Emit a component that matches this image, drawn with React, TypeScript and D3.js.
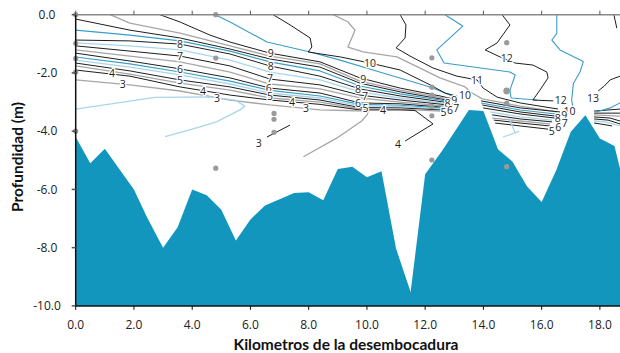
import React from "react";
import * as d3 from "d3";

const W = 620;
const H = 353;
const X0 = 75.7;
const X1 = 620;
const Y0 = 14.7;
const Y1 = 305.9;

// River-bed profile (km from the mouth, depth in m)
const profileKm = [0, 0.5, 1, 2, 2.44, 3, 3.5, 4, 4.5, 5, 5.5, 6, 6.5, 7.5, 8, 8.5, 9, 9.5, 10, 10.5, 11, 11.5, 12, 12.6, 13.5, 14, 14.5, 15, 15.5, 16, 16.5, 17, 17.5, 18, 18.5, 18.69];
const profileDepth = [-4.2, -5.1, -4.6, -6.0, -6.94, -8.0, -7.3, -6.0, -6.2, -6.7, -7.75, -7.03, -6.55, -6.12, -6.1, -6.37, -5.3, -5.22, -5.58, -5.38, -8.03, -9.52, -5.48, -4.65, -3.27, -3.31, -4.62, -5.05, -5.9, -6.43, -5.34, -4.02, -3.45, -4.25, -4.51, -5.28];

// Sampling stations
const stationKm = [0, 0, 0, 0, 0, 4.81, 4.81, 4.81, 6.81, 6.81, 6.81, 12.23, 12.23, 12.23, 12.23, 12.23, 12.23, 14.8, 14.8, 14.8, 14.8];
const stationDepth = [0, -0.98, -1.5, -1.97, -4.0, 0, -1.49, -5.27, -3.39, -3.59, -4.04, -1.48, -2.49, -2.76, -3.16, -3.47, -4.99, -0.96, -2.62, -3.04, -5.22];

type Pt = [number, number];

// Isolines, [km, depth]
const iso9: Pt[] = [[2.89, 0], [3.58, -0.25], [4.61, -0.7], [5.3, -0.94], [6.67, -1.32], [8.39, -1.62], [9.76, -2.17], [11.14, -2.52], [12.51, -2.79], [12.9, -2.88]];
const iso9b: Pt[] = [[1.18, 0], [1.86, -0.29], [3.58, -0.63], [5.3, -1.07], [6.67, -1.42], [8.39, -1.69], [9.76, -2.28], [11.14, -2.59], [12.51, -2.84], [12.75, -2.88]];
const iso8h: Pt[] = [[0, -0.15], [1.86, -0.53], [3.58, -0.8], [5.3, -1.18], [6.67, -1.52], [8.39, -1.8], [9.76, -2.35], [11.14, -2.65], [12.51, -2.89], [12.75, -2.93]];
const iso8b: Pt[] = [[0, -0.53], [1.86, -0.7], [3.58, -0.9], [5.3, -1.25], [6.67, -1.62], [8.39, -1.93], [9.76, -2.45], [11.14, -2.72], [12.51, -2.93], [12.7, -2.96]];
const iso8: Pt[] = [[0, -0.87], [1.86, -0.9], [3.58, -1.01], [5.3, -1.35], [6.67, -1.76], [8.39, -2.11], [9.76, -2.55], [11.14, -2.79], [12.51, -2.98], [12.7, -3.01]];
const iso7b: Pt[] = [[0, -0.97], [1.86, -1.07], [3.58, -1.21], [5.3, -1.56], [6.67, -1.97], [8.39, -2.24], [9.76, -2.65], [11.14, -2.86], [12.51, -3.03], [12.7, -3.05]];
const iso7: Pt[] = [[0, -1.07], [1.86, -1.25], [3.58, -1.42], [5.3, -1.76], [6.67, -2.21], [8.39, -2.41], [9.76, -2.76], [11.14, -2.93], [12.51, -3.07], [12.85, -3.12]];
const iso6b: Pt[] = [[0, -1.21], [1.86, -1.42], [3.58, -1.62], [5.3, -1.97], [6.67, -2.38], [8.39, -2.55], [9.76, -2.86], [11.14, -3.0], [12.51, -3.12], [12.7, -3.15]];
const iso6: Pt[] = [[0, -1.32], [1.86, -1.59], [3.58, -1.86], [5.3, -2.17], [6.67, -2.52], [8.39, -2.69], [9.76, -3.03], [11.14, -3.06], [12.51, -3.17], [12.75, -3.2]];
const iso5c: Pt[] = [[0, -1.45], [1.86, -1.69], [3.58, -1.97], [5.3, -2.28], [6.67, -2.6], [8.39, -2.79], [9.76, -3.08], [11.14, -3.11], [12.51, -3.2], [12.7, -3.22]];
const iso5b: Pt[] = [[0, -1.56], [1.86, -1.8], [3.58, -2.07], [5.3, -2.38], [6.67, -2.69], [8.39, -2.86], [9.76, -3.13], [11.14, -3.15], [12.51, -3.24], [12.7, -3.26]];
const iso5: Pt[] = [[0, -1.66], [1.86, -1.93], [3.58, -2.24], [5.3, -2.48], [6.67, -2.76], [8.39, -2.93], [9.76, -3.19], [11.14, -3.2], [12.51, -3.27], [12.6, -3.28]];
const iso4b: Pt[] = [[0, -1.76], [1.86, -2.04], [3.58, -2.35], [5.3, -2.59], [6.67, -2.86], [8.39, -3.0], [9.76, -3.23], [11.14, -3.24], [12.51, -3.31]];
const iso4: Pt[] = [[0, -1.9], [1.86, -2.11], [3.58, -2.48], [5.3, -2.76], [6.67, -2.93], [8.39, -3.08], [9.76, -3.27], [11.14, -3.27], [11.65, -3.29], [12.27, -3.75], [11.31, -4.34]];
const iso3: Pt[] = [[0, -2.24], [1.86, -2.41], [3.58, -2.62], [5.3, -2.93], [6.67, -3.1], [8.39, -3.27], [9.25, -3.29], [10.05, -3.31], [10.0, -3.45], [9.82, -3.65], [8.96, -4.24], [7.82, -4.88]];
const iso3s: Pt[] = [[6.57, -4.2], [7.36, -3.79]];
const iso35: Pt[] = [[0, -3.24], [2.72, -2.84], [4.61, -2.82], [5.47, -2.93], [5.81, -3.14], [5.64, -3.27], [4.85, -3.67], [4.27, -3.85], [3.07, -4.19]];
const iso95: Pt[] = [[4.79, 0], [5.3, -0.25], [6.57, -0.94], [8.05, -1.28], [9.08, -1.56], [10.55, -2.0], [12.17, -2.48], [13.02, -2.83]];
const iso10: Pt[] = [[6.78, 0], [7.36, -0.35], [8.05, -0.8], [8.11, -1.11], [7.98, -1.28], [9.08, -1.45], [10.11, -1.66], [11.14, -1.9], [12.17, -2.41], [12.68, -2.69], [13.1, -2.8]];
const iso105: Pt[] = [[8.84, 0], [9.35, -0.25], [9.59, -0.53], [9.35, -1.11], [9.87, -1.28], [11.03, -1.45], [12.51, -2.17], [13.37, -2.48], [13.61, -2.69], [13.96, -2.89], [15.26, -3.14], [16.53, -3.34]];
const iso11: Pt[] = [[11.14, 0], [11.34, -0.35], [11.31, -0.8], [11.0, -1.14], [11.48, -1.42], [12.27, -1.83], [13.09, -2.11], [13.78, -2.24], [13.99, -2.52], [14.47, -2.83], [15.26, -3.03], [16.56, -3.24]];
const iso115: Pt[] = [[12.68, 0], [13.29, -0.39], [12.4, -1.21], [12.65, -1.66], [14.91, -1.97], [15.09, -2.07], [14.91, -2.59], [14.95, -2.86], [15.84, -2.93]];
const iso12: Pt[] = [[14.64, 0], [14.91, -0.35], [14.47, -0.97], [14.06, -1.21], [14.57, -1.45], [15.09, -1.66], [15.7, -1.73], [16.18, -1.97], [16.22, -2.17], [15.94, -2.59], [15.7, -2.93], [16.4, -2.96]];
const iso125: Pt[] = [[16.52, 0], [16.52, -0.64], [16.35, -0.87], [16.63, -1.21], [17.43, -1.61], [17.32, -1.96], [17.09, -2.36], [17.03, -2.93], [17.07, -3.17]];
const iso13: Pt[] = [[17.94, -2.62], [18.15, -2.45], [18.35, -2.24], [18.69, -2.11]];
const iso13t: Pt[] = [[18.48, 0], [18.58, -0.46]];
const mid10: Pt[] = [[13.92, -2.96], [15.26, -3.2], [16.63, -3.34]];
const mid95: Pt[] = [[13.92, -3.03], [15.26, -3.27], [16.49, -3.41]];
const mid9: Pt[] = [[13.96, -3.1], [15.26, -3.34], [16.46, -3.48]];
const mid8: Pt[] = [[13.99, -3.2], [15.26, -3.41], [16.46, -3.55]];
const mid75: Pt[] = [[14.23, -3.34], [15.26, -3.51], [16.36, -3.62]];
const mid7: Pt[] = [[14.3, -3.44], [15.26, -3.58], [16.36, -3.68]];
const mid65: Pt[] = [[14.3, -3.55], [15.26, -3.65], [16.29, -3.75]];
const mid6: Pt[] = [[14.36, -3.62], [15.26, -3.72], [16.29, -3.82]];
const mid5: Pt[] = [[14.4, -3.72], [15.26, -3.82], [16.22, -3.93]];
const hook: Pt[] = [[14.88, -3.55], [15.02, -3.89], [15.09, -4.06], [14.67, -4.2]];
const hookTip: Pt[] = [[15.09, -4.06], [15.23, -4.0]];
const east1: Pt[] = [[17.8, -3.31], [18.69, -3.24]];
const east2: Pt[] = [[18.69, -3.03], [18.35, -3.2], [17.87, -3.34]];
const east3: Pt[] = [[17.8, -3.38], [18.69, -3.38]];
const east4: Pt[] = [[17.8, -3.44], [18.69, -3.48]];
const east5: Pt[] = [[17.8, -3.51], [18.35, -3.55], [18.69, -3.65]];
const east6: Pt[] = [[17.8, -3.58], [18.28, -3.62], [18.69, -3.75]];
const east7: Pt[] = [[17.8, -3.65], [18.18, -3.68], [18.69, -3.82]];
const east8: Pt[] = [[17.8, -3.72], [18.01, -3.75], [18.42, -3.82]];

type Kind = "k" | "g" | "b" | "l";
const isolines: { pts: Pt[]; kind: Kind }[] = [
  { pts: iso9, kind: "k" }, { pts: iso9b, kind: "g" }, { pts: iso8h, kind: "k" },
  { pts: iso8b, kind: "b" }, { pts: iso8, kind: "k" }, { pts: iso7b, kind: "l" },
  { pts: iso7, kind: "k" }, { pts: iso6b, kind: "g" }, { pts: iso6, kind: "k" },
  { pts: iso5c, kind: "b" }, { pts: iso5b, kind: "l" }, { pts: iso5, kind: "k" },
  { pts: iso4b, kind: "g" }, { pts: iso4, kind: "k" }, { pts: iso3, kind: "g" },
  { pts: iso3s, kind: "k" }, { pts: iso35, kind: "l" }, { pts: iso95, kind: "b" },
  { pts: iso10, kind: "k" }, { pts: iso105, kind: "g" }, { pts: iso11, kind: "k" },
  { pts: iso115, kind: "b" }, { pts: iso12, kind: "k" }, { pts: iso125, kind: "b" },
  { pts: iso13, kind: "k" }, { pts: iso13t, kind: "k" },
  { pts: mid10, kind: "k" }, { pts: mid95, kind: "b" }, { pts: mid9, kind: "k" },
  { pts: mid8, kind: "k" }, { pts: mid75, kind: "l" }, { pts: mid7, kind: "k" },
  { pts: mid65, kind: "g" }, { pts: mid6, kind: "k" }, { pts: mid5, kind: "k" },
  { pts: hook, kind: "l" }, { pts: hookTip, kind: "l" },
  { pts: east1, kind: "k" }, { pts: east2, kind: "b" }, { pts: east3, kind: "k" },
  { pts: east4, kind: "g" }, { pts: east5, kind: "k" }, { pts: east6, kind: "k" },
  { pts: east7, kind: "l" }, { pts: east8, kind: "k" },
];

// Isoline labels: text, km, depth
const isoLabels: [string, number, number][] = [
  ["8", 3.58, -1.01], ["7", 3.58, -1.42], ["6", 3.58, -1.86], ["5", 3.58, -2.24],
  ["4", 1.25, -2.0], ["3", 1.62, -2.38], ["4", 4.37, -2.62], ["3", 4.85, -2.85],
  ["9", 6.7, -1.32], ["8", 6.7, -1.76], ["7", 6.67, -2.19], ["6", 6.63, -2.5],
  ["5", 6.67, -2.78], ["4", 7.43, -3.0], ["3", 7.91, -3.22],
  ["10", 10.11, -1.66], ["9", 9.87, -2.2], ["8", 9.69, -2.55], ["7", 9.93, -2.78],
  ["6", 9.69, -3.04], ["5", 9.95, -3.2], ["4", 10.55, -3.27],
  ["10", 13.37, -2.77], ["9", 13.0, -2.93], ["8", 12.77, -3.02],
  ["7", 13.07, -3.22], ["6", 12.85, -3.28], ["5", 12.63, -3.34],
  ["11", 13.78, -2.24], ["12", 14.8, -1.5], ["12", 16.66, -2.93],
  ["10", 16.96, -3.29], ["9", 16.78, -3.43], ["8", 16.55, -3.55],
  ["7", 16.79, -3.71], ["6", 16.57, -3.86], ["5", 16.35, -4.0],
  ["13", 17.76, -2.86], ["4", 11.07, -4.44], ["3", 6.29, -4.4],
];

const kmTicks = [0, 2, 4, 6, 8, 10, 12, 14, 16, 18];
const depthTicks = [0, -2, -4, -6, -8, -10];

const stroke: Record<Kind, { c: string; w: number }> = {
  k: { c: "#1e1e1e", w: 1 },
  g: { c: "#a6a6a6", w: 1.3 },
  b: { c: "#3a9dc6", w: 1.1 },
  l: { c: "#a9d5ea", w: 1.3 },
};

export default function App() {
  const x = d3.scaleLinear().domain([0, 18.69]).range([X0, X1]);
  const y = d3.scaleLinear().domain([0, -10]).range([Y0, Y1]);

  const bed = d3
    .area<number>()
    .x((_, i) => x(profileKm[i]))
    .y0(y(-10))
    .y1((_, i) => y(profileDepth[i]));

  const line = d3
    .line<Pt>()
    .x((p) => x(p[0]))
    .y((p) => y(p[1]));

  const tickFont = { fontFamily: "'Open Sans', sans-serif", fontSize: 12, fill: "#222" };

  return (
    <svg width={W} height={H} style={{ position: "absolute", left: 0, top: 0 }}>
      <rect width={W} height={H} fill="#fff" />
      <path d={bed(profileKm) ?? ""} fill="#1396be" />

      {isolines.map((c, i) => (
        <path
          key={i}
          d={line(c.pts) ?? ""}
          fill="none"
          stroke={stroke[c.kind].c}
          strokeWidth={stroke[c.kind].w}
          strokeLinejoin="round"
        />
      ))}

      {stationKm.map((k, i) => (
        <circle key={i} cx={x(k)} cy={y(stationDepth[i])} r={i === 18 ? 3.4 : 2.6} fill="#9a9a9a" />
      ))}

      {isoLabels.map(([t, k, d], i) => (
        <text
          key={i}
          x={x(k)}
          y={y(d)}
          textAnchor="middle"
          dominantBaseline="central"
          fontFamily="'Open Sans', sans-serif"
          fontSize={10.5}
          fill="#1e1e1e"
          stroke="#fff"
          strokeWidth={2.5}
          paintOrder="stroke"
        >
          {t}
        </text>
      ))}

      {/* top frame */}
      <line x1={X0} x2={X1} y1={Y0} y2={Y0} stroke="#8a8a8a" strokeWidth={1.5} />
      {kmTicks.map((k) => (
        <line key={"tt" + k} x1={x(k)} x2={x(k)} y1={Y0} y2={Y0 - 4} stroke="#555" />
      ))}

      {/* left axis */}
      <line x1={X0} x2={X0} y1={Y0} y2={Y1} stroke="#111" strokeWidth={1.5} />
      {depthTicks.map((d) => (
        <g key={"yt" + d}>
          <line x1={X0 - 4} x2={X0} y1={y(d)} y2={y(d)} stroke="#555" strokeWidth={1.5} />
          <text x={47} y={y(d) + 4.3} textAnchor="middle" {...tickFont}>
            {d.toFixed(1)}
          </text>
        </g>
      ))}

      {/* bottom axis */}
      <line x1={X0} x2={X1} y1={Y1} y2={Y1} stroke="#111" strokeWidth={1.5} />
      {kmTicks.map((k) => (
        <g key={"xt" + k}>
          <line x1={x(k)} x2={x(k)} y1={Y1} y2={Y1 + 4} stroke="#111" />
          <text x={x(k)} y={328.5} textAnchor="middle" {...tickFont}>
            {k.toFixed(1)}
          </text>
        </g>
      ))}

      <text
        x={346}
        y={349.5}
        textAnchor="middle"
        fontFamily="Lato, sans-serif"
        fontWeight="bold"
        fontSize={15.5}
        fill="#111"
      >
        Kilometros de la desembocadura
      </text>
      <text
        transform={`translate(22.5, 157) rotate(-90)`}
        textAnchor="middle"
        fontFamily="Lato, sans-serif"
        fontWeight="bold"
        fontSize={15.5}
        fill="#111"
      >
        Profundidad (m)
      </text>
    </svg>
  );
}
